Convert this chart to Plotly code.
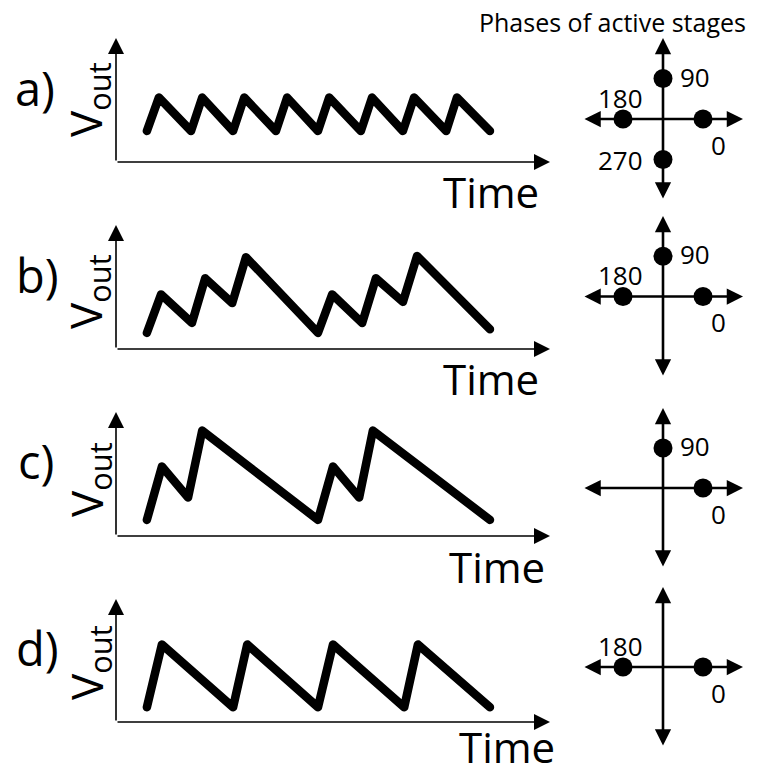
import numpy as np
import plotly.graph_objects as go

W, H = 758, 767
FONT = "Open Sans"

# ---- waveform data: time (arbitrary units) and V_out (fraction of axis height)
t_a = [0.72, 1.00, 1.75, 2.01, 2.73, 2.99, 3.73, 3.99, 4.71, 4.97, 5.71, 5.97, 6.69, 6.95, 7.70, 7.95, 8.72]
v_a = [0.25, 0.52, 0.25, 0.52, 0.25, 0.52, 0.25, 0.52, 0.25, 0.52, 0.25, 0.52, 0.25, 0.52, 0.25, 0.52, 0.25]

t_b = [0.72, 1.05, 1.77, 2.08, 2.71, 3.03, 4.71, 5.04, 5.74, 6.06, 6.69, 7.02, 8.72]
v_b = [0.13, 0.44, 0.21, 0.57, 0.37, 0.74, 0.13, 0.44, 0.21, 0.57, 0.38, 0.75, 0.16]

t_c = [0.72, 1.07, 1.68, 2.01, 4.71, 5.06, 5.67, 5.99, 8.72]
v_c = [0.13, 0.56, 0.31, 0.85, 0.13, 0.56, 0.31, 0.85, 0.13]

t_d = [0.72, 1.07, 2.73, 3.06, 4.71, 5.06, 6.72, 7.04, 8.72]
v_d = [0.12, 0.63, 0.12, 0.63, 0.12, 0.63, 0.12, 0.63, 0.12]

# ---- phases (degrees) of the active stages for each case
phases_a = [0, 90, 180, 270]
phases_b = [0, 90, 180]
phases_c = [0, 90]
phases_d = [0, 180]

panel_labels = ["a)", "b)", "c)", "d)"]
time_range = [0, 10.12]
volt_range = [0, 1]
phase_radius = 0.5

waves = [(t_a, v_a), (t_b, v_b), (t_c, v_c), (t_d, v_d)]
phase_sets = [phases_a, phases_b, phases_c, phases_d]

# ---- layout geometry (pixels in the page)
rows = [
    dict(axis_y=162, top_y=38, ph_top=38, ph_bot=200, lab=(35, 88), vout=(88, 100), time=(491, 192)),
    dict(axis_y=349, top_y=225, ph_top=216, ph_bot=377, lab=(37, 275), vout=(88, 292), time=(491, 378)),
    dict(axis_y=536, top_y=412, ph_top=408, ph_bot=568, lab=(36, 461), vout=(88, 480), time=(497, 566)),
    dict(axis_y=722, top_y=599, ph_top=587, ph_bot=747, lab=(37, 648), vout=(88, 663), time=(507, 746)),
]
WAVE_X = (116, 550)
PHASE_X = (583, 743)


def px(x):
    return x / W


def py(y):
    return 1 - y / H


def text_ann(x, y, text, size, **kw):
    d = dict(xref="paper", yref="paper", x=px(x), y=py(y), text=text, showarrow=False,
             xanchor="center", yanchor="middle", font=dict(size=size, family=FONT, color="black"))
    d.update(kw)
    return d


label_offsets = {0: (15, -26), 90: (32, 2), 180: (-3, 21), 270: (-43, 0)}

fig = go.Figure()
annotations = []
layout = dict(
    width=W, height=H, margin=dict(l=0, r=0, t=0, b=0),
    paper_bgcolor="white", plot_bgcolor="white", showlegend=False,
    font=dict(family=FONT, color="black"),
)

for i, (row, (t, v), phases, lab) in enumerate(zip(rows, waves, phase_sets, panel_labels)):
    wx = 2 * i + 1
    pxn = 2 * i + 2
    xw = "x" if wx == 1 else f"x{wx}"
    yw = "y" if wx == 1 else f"y{wx}"
    xp, yp = f"x{pxn}", f"y{pxn}"

    # waveform subplot
    layout["xaxis" if wx == 1 else f"xaxis{wx}"] = dict(
        domain=[px(WAVE_X[0]), px(WAVE_X[1])], range=time_range, visible=False, anchor=yw)
    layout["yaxis" if wx == 1 else f"yaxis{wx}"] = dict(
        domain=[py(row["axis_y"]), py(row["top_y"])], range=volt_range, visible=False, anchor=xw)
    fig.add_trace(go.Scatter(x=t, y=v, mode="lines", xaxis=xw, yaxis=yw,
                             line=dict(color="black", width=8.5), cliponaxis=False,
                             hoverinfo="skip"))

    # axis arrows of the waveform plot
    for (x_tip, y_tip) in [(0, 1), (1, 0)]:
        annotations.append(dict(
            xref=f"{xw} domain", yref=f"{yw} domain", axref=f"{xw} domain", ayref=f"{yw} domain",
            x=x_tip, y=y_tip, ax=0, ay=0, text="", showarrow=True,
            arrowhead=2, arrowsize=2.0, arrowwidth=1.6, arrowcolor="black"))

    # phase subplot
    layout[f"xaxis{pxn}"] = dict(domain=[px(PHASE_X[0]), px(PHASE_X[1])], range=[-1, 1],
                                 visible=False, anchor=yp)
    layout[f"yaxis{pxn}"] = dict(domain=[py(row["ph_bot"]), py(row["ph_top"])], range=[-1, 1],
                                 visible=False, anchor=xp)
    for (x0, y0, x1, y1) in [(-1, 0, 1, 0), (0, -1, 0, 1)]:
        annotations.append(dict(
            xref=xp, yref=yp, axref=xp, ayref=yp, x=x1, y=y1, ax=x0, ay=y0, text="",
            showarrow=True, arrowside="end+start", arrowhead=2, startarrowhead=2,
            arrowsize=1.25, startarrowsize=1.25, arrowwidth=2.6, arrowcolor="black"))

    ang = np.deg2rad(phases)
    dx = phase_radius * np.cos(ang)
    dy = phase_radius * np.sin(ang)
    fig.add_trace(go.Scatter(x=dx, y=dy, mode="markers", xaxis=xp, yaxis=yp,
                             marker=dict(color="black", size=19), cliponaxis=False,
                             hoverinfo="skip"))
    for ph, xx, yy in zip(phases, dx, dy):
        ox, oy = label_offsets[ph]
        annotations.append(dict(xref=xp, yref=yp, x=xx, y=yy, xshift=ox, yshift=oy,
                                text=str(ph), showarrow=False, xanchor="center", yanchor="middle",
                                font=dict(size=26, family=FONT, color="black")))

    # text labels
    annotations.append(text_ann(row["lab"][0], row["lab"][1], lab, 47))
    annotations.append(text_ann(row["vout"][0], row["vout"][1], "V<sub>out</sub>", 44, textangle=-90))
    annotations.append(text_ann(row["time"][0], row["time"][1], "Time", 42))

annotations.append(text_ann(612, 22, "Phases of active stages", 25))

layout["annotations"] = annotations
fig.update_layout(**layout)

round_joins = """
var gd = document.getElementById('{plot_id}');
gd.querySelectorAll('.scatterlayer .js-line').forEach(function(p) {
    p.style.strokeLinejoin = 'round';
    p.style.strokeLinecap = 'round';
});
"""

fig.write_html("out.html", config={"displayModeBar": False}, post_script=round_joins)
